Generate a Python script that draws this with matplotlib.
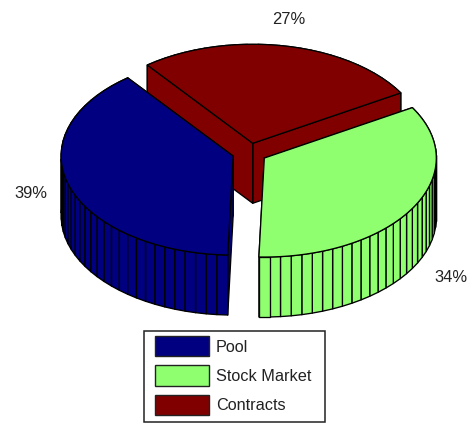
import numpy as np
import matplotlib
matplotlib.use("Agg")
import matplotlib.pyplot as plt
from matplotlib.patches import Patch, Polygon, Rectangle

categories = ["Pool", "Stock Market", "Contracts"]
shares = [39, 34, 27]
share_labels = ["39%", "34%", "27%"]
colors = ["#000080", "#8FFF70", "#800000"]
label_pos = [(31, 193), (451, 278), (289, 20)]

plt.rcParams["font.family"] = ["Liberation Sans", "DejaVu Sans"]
W, H = 472, 424
fig = plt.figure(figsize=(W / 100, H / 100), dpi=100)
ax = fig.add_axes([0, 0, 1, 1])
ax.set_xlim(0, W)
ax.set_ylim(H, 0)
ax.axis("off")

CX, CY, A, B, DEPTH, EXPLODE, START = 249.5, 153.0, 172.0, 99.0, 60.0, 0.10, 127.8
LW = 0.95


def pt(cx, cy, th, r=1.0):
    return (cx + A * r * np.cos(th), cy - B * r * np.sin(th))


def poly(points, color, z):
    ax.add_patch(Polygon(points, closed=True, facecolor=color, edgecolor="black",
                         linewidth=LW, joinstyle="round", zorder=z))


def draw_slice(share, color, base, z):
    a0 = np.radians(START + base * 3.6)
    a1 = np.radians(START + (base + share) * 3.6)
    mid = (a0 + a1) / 2
    cx, cy = pt(CX, CY, mid, EXPLODE)
    th = np.linspace(a0, a1, int(np.ceil(share)) + 1)
    # outer wall, back facets first and below the cut faces
    mids = (th[:-1] + th[1:]) / 2
    order = np.argsort(-np.sin(mids))
    for rank, i in enumerate(order):
        x0, y0 = pt(cx, cy, th[i])
        x1, y1 = pt(cx, cy, th[i + 1])
        level = z + rank * 0.001 if np.sin(mids[i]) > 0 else z + 1 + rank * 0.001
        poly([(x0, y0), (x1, y1), (x1, y1 + DEPTH), (x0, y0 + DEPTH)], color, level)
    # radial cut faces
    for t, off in ((a0, 0.5), (a1, 0.6)):
        x, y = pt(cx, cy, t)
        poly([(cx, cy), (cx, cy + DEPTH), (x, y + DEPTH), (x, y)], color, z + off)
    # top face
    poly([(cx, cy)] + [pt(cx, cy, t) for t in np.linspace(a0, a1, 4 * len(th))], color, z + 3)


base = 0
for s, c, z in zip(shares, colors, (20, 30, 10)):
    draw_slice(s, c, base, z)
    base += s

for (x, y), t in zip(label_pos, share_labels):
    ax.text(x, y, t, ha="center", va="center", fontsize=11.9, color="#222222", zorder=50)

# legend frame and contents
ax.add_patch(Rectangle((144, 330.5), 181, 91.5, facecolor="white", edgecolor="#222222",
                       linewidth=1.1, zorder=60))
handles = [Patch(facecolor=c, edgecolor="#222222", linewidth=1.0, label=n)
           for n, c in zip(categories, colors)]
leg = ax.legend(handles=handles, loc="upper left", bbox_to_anchor=(155 / W, 1 - 336 / H),
                frameon=False, borderpad=0, borderaxespad=0, fontsize=11.7,
                handlelength=54 / 16.25, handleheight=1.55, handletextpad=7 / 16.25,
                labelspacing=0.55, labelcolor="#222222")
leg.set_zorder(70)

fig.savefig("out.png", dpi=100)
